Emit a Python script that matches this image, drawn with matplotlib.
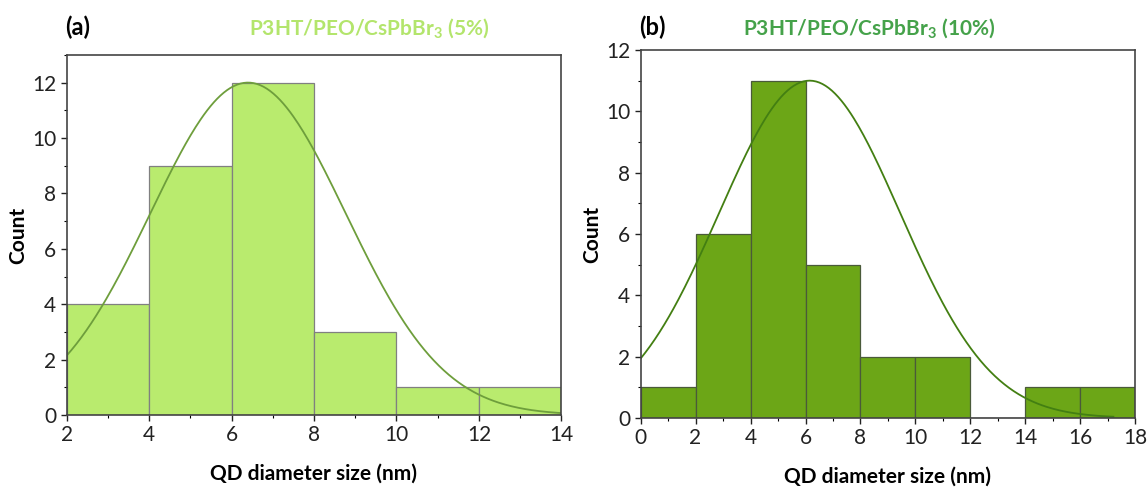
import numpy as np
import matplotlib.pyplot as plt
from matplotlib.ticker import MultipleLocator

# histogram data
edges_a = [2, 4, 6, 8, 10, 12, 14]
counts_a = [4, 9, 12, 3, 1, 1]
edges_b = [0, 2, 4, 6, 8, 10, 12, 14, 16, 18]
counts_b = [1, 6, 11, 5, 2, 2, 0, 1, 1]

# gaussian fit parameters (peak height, centre, sigma)
fit_a = [12.0, 6.4, 2.37]
fit_b = [11.0, 6.15, 3.3]

plt.rcParams['font.family'] = ['Lato', 'DejaVu Sans']
plt.rcParams['mathtext.fontset'] = 'custom'
plt.rcParams['mathtext.rm'] = 'Lato'
plt.rcParams['mathtext.bf'] = 'Lato:bold'

fig = plt.figure(figsize=(11.48, 4.9), dpi=100)


def panel(rect, edges, counts, fit, fill, edge, curve, xmax_curve,
          ylim, xticks):
    ax = fig.add_axes(rect)
    left = np.array(edges[:-1])
    width = np.diff(edges)
    ax.bar(left, counts, width=width, align='edge', color=fill,
           edgecolor=edge, linewidth=0.9)
    x = np.linspace(edges[0], xmax_curve, 300)
    a, mu, s = fit
    ax.plot(x, a*np.exp(-(x-mu)**2/(2*s**2)), color=curve, lw=1.3)
    ax.set_xlim(edges[0], edges[-1])
    ax.set_ylim(0, ylim)
    ax.set_xticks(xticks)
    ax.set_yticks(np.arange(0, 13, 2))
    ax.xaxis.set_minor_locator(MultipleLocator(1))
    ax.yaxis.set_minor_locator(MultipleLocator(1))
    ax.tick_params(labelsize=15, length=4, width=1, direction='out',
                   colors='#222222')
    ax.tick_params(which='minor', length=2.5, width=0.8)
    for sp in ax.spines.values():
        sp.set_color('#444444')
        sp.set_linewidth(1.2)
    ax.set_xlabel('QD diameter size (nm)', fontsize=15, fontweight='bold',
                  labelpad=13)
    ax.set_ylabel('Count', fontsize=15, fontweight='bold', labelpad=3)
    return ax


ax1 = panel([0.058, 0.153, 0.431, 0.735], edges_a, counts_a, fit_a,
            '#b9eb6e', '#808080', '#6e9e3c', 14, 13, range(2, 15, 2))
ax2 = panel([0.558, 0.147, 0.431, 0.751], edges_b, counts_b, fit_b,
            '#6ca617', '#4a5a3a', '#437f12', 17.2, 12, range(0, 19, 2))

fig.text(0.057, 0.945, '(a)', fontsize=17, fontweight='bold', va='center')
fig.text(0.322, 0.942, r'P3HT/PEO/CsPbBr$_\mathbf{3}$ (5%)', fontsize=15,
         fontweight='bold', color='#b3e56c', ha='center', va='center')
fig.text(0.557, 0.945, '(b)', fontsize=17, fontweight='bold', va='center')
fig.text(0.757, 0.942, r'P3HT/PEO/CsPbBr$_\mathbf{3}$ (10%)', fontsize=15,
         fontweight='bold', color='#45a24a', ha='center', va='center')

plt.savefig('out.png', dpi=100)
